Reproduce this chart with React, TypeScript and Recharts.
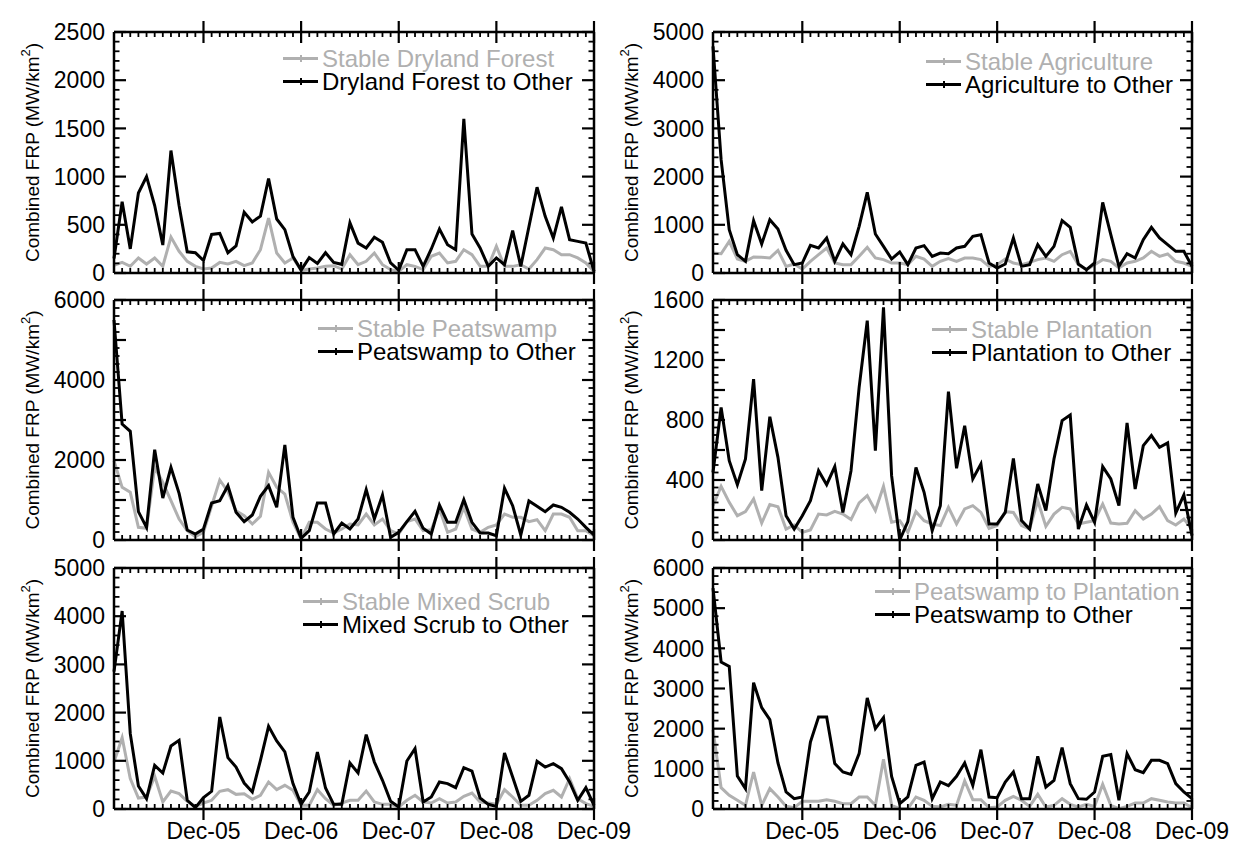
import React from 'react';
import { LineChart, Line, XAxis, YAxis, Legend } from 'recharts';

const FONT = '"Liberation Sans", Arial, Helvetica, sans-serif';
const GRAY = '#b0b0b0';
const AXIS = { stroke: '#000', strokeWidth: 2.5 };

const MONTH_NAMES = ['Jan', 'Feb', 'Mar', 'Apr', 'May', 'Jun', 'Jul', 'Aug', 'Sep', 'Oct', 'Nov', 'Dec'];
const YEARS = ['05', '06', '07', '08', '09'];
const months: string[] = YEARS.flatMap((y) => MONTH_NAMES.map((m) => `${m}-${y}`));

// Panel 1: Dryland Forest
const dryStable = [80, 110, 70, 156, 93, 156, 70, 373, 225, 121, 69, 41, 52, 110, 93, 121, 76, 104, 242, 570, 207, 104, 156, 28, 41, 52, 69, 76, 41, 190, 86, 121, 207, 86, 35, 17, 86, 69, 35, 173, 207, 104, 121, 242, 190, 69, 69, 277, 69, 69, 86, 41, 138, 259, 242, 190, 190, 156, 104, 17];
const dryOther = [150, 740, 250, 830, 1000, 700, 290, 1270, 700, 220, 210, 130, 400, 410, 210, 280, 630, 530, 590, 980, 560, 450, 170, 30, 160, 100, 210, 110, 90, 520, 310, 260, 370, 318, 104, 28, 242, 242, 69, 249, 456, 294, 242, 1600, 405, 260, 69, 156, 86, 439, 69, 480, 890, 588, 363, 685, 346, 328, 311, 17];

// Panel 2: Agriculture
const agriStable = [415, 400, 657, 290, 242, 332, 325, 311, 470, 138, 187, 83, 242, 380, 519, 207, 173, 173, 346, 533, 311, 277, 207, 207, 173, 346, 290, 138, 242, 300, 242, 311, 311, 277, 138, 173, 290, 207, 173, 221, 277, 311, 242, 380, 450, 173, 69, 173, 277, 242, 104, 207, 242, 311, 450, 346, 394, 242, 207, 138];
const agriOther = [4700, 2350, 900, 380, 242, 1086, 602, 1107, 913, 470, 173, 207, 574, 519, 726, 242, 602, 380, 968, 1674, 809, 553, 290, 436, 173, 519, 567, 346, 415, 400, 519, 553, 760, 795, 207, 104, 187, 726, 138, 173, 588, 346, 553, 1086, 947, 187, 69, 207, 1466, 795, 138, 400, 312, 692, 948, 726, 588, 450, 450, 138];

// Panel 3: Peatswamp
const peatStable = [1983, 1317, 1192, 317, 292, 1817, 1442, 983, 525, 233, 83, 192, 850, 1500, 1208, 733, 608, 400, 592, 1692, 1317, 1150, 442, 25, 442, 442, 275, 175, 275, 400, 375, 650, 375, 525, 233, 150, 458, 525, 233, 258, 775, 192, 275, 817, 275, 192, 317, 375, 650, 567, 567, 458, 508, 233, 650, 650, 567, 233, 233, 108];
const peatOther = [5500, 2900, 2717, 708, 317, 2258, 1050, 1817, 1167, 250, 150, 275, 925, 983, 1358, 692, 458, 625, 1092, 1358, 817, 2375, 567, 42, 233, 925, 925, 150, 425, 275, 525, 1258, 525, 1125, 67, 192, 458, 717, 292, 150, 875, 442, 442, 1008, 442, 175, 175, 108, 1292, 858, 125, 975, 842, 708, 875, 817, 692, 525, 317, 125];

// Panel 4: Plantation
const plantStable = [229, 358, 251, 162, 189, 273, 113, 236, 222, 73, 100, 51, 67, 173, 167, 191, 173, 136, 247, 296, 196, 358, 118, 129, 51, 189, 129, 107, 96, 218, 107, 207, 229, 184, 78, 96, 189, 184, 96, 73, 262, 91, 173, 218, 207, 107, 118, 129, 240, 113, 107, 111, 196, 140, 173, 222, 129, 100, 140, 73];
const plantOther = [450, 884, 529, 369, 540, 1073, 329, 822, 551, 162, 73, 162, 262, 462, 369, 489, 184, 462, 1018, 1462, 596, 1551, 429, 0, 122, 484, 318, 62, 229, 989, 478, 762, 407, 507, 107, 107, 184, 544, 129, 73, 373, 196, 540, 796, 833, 73, 233, 118, 489, 407, 229, 780, 340, 629, 696, 618, 647, 180, 300, 29];

// Panel 5: Mixed Scrub
const scrubStable = [975, 1480, 629, 228, 249, 678, 145, 373, 318, 159, 55, 124, 180, 367, 401, 304, 318, 201, 284, 560, 401, 491, 387, 76, 76, 401, 214, 76, 124, 180, 180, 373, 145, 97, 97, 41, 180, 284, 145, 124, 214, 124, 145, 263, 332, 145, 124, 97, 401, 249, 76, 76, 180, 318, 387, 249, 629, 214, 111, 55];
const scrubOther = [2850, 4108, 1563, 477, 214, 906, 747, 1307, 1425, 180, 28, 235, 367, 1909, 1065, 871, 539, 353, 1010, 1715, 1411, 1183, 526, 97, 353, 1183, 436, 97, 97, 954, 747, 1542, 975, 595, 159, 41, 996, 1252, 145, 249, 560, 526, 443, 858, 788, 228, 97, 55, 1162, 664, 159, 284, 989, 871, 941, 837, 560, 180, 443, 76];

// Panel 6: Peatswamp to Plantation / Other
const peatToPlant = [1975, 531, 340, 216, 91, 921, 91, 506, 299, 66, 33, 191, 191, 191, 232, 191, 133, 133, 299, 299, 91, 1237, 91, 8, 8, 299, 216, 66, 50, 116, 91, 697, 232, 232, 33, 50, 216, 315, 216, 66, 365, 50, 91, 257, 116, 50, 116, 66, 614, 91, 8, 66, 149, 149, 257, 216, 174, 149, 149, 33];
const peatToOther = [5500, 3660, 3552, 822, 506, 3145, 2523, 2224, 1145, 423, 257, 299, 1668, 2290, 2290, 1129, 921, 863, 1378, 2764, 2000, 2274, 813, 133, 299, 1087, 1170, 257, 672, 580, 813, 1145, 589, 1477, 299, 282, 672, 921, 257, 257, 1311, 548, 714, 1527, 631, 257, 241, 423, 1311, 1353, 216, 1378, 979, 905, 1212, 1212, 1129, 631, 423, 257];

// Y axis tick labels per panel
const labels1 = [0, 500, 1000, 1500, 2000, 2500];
const labels2 = [0, 1000, 2000, 3000, 4000, 5000];
const labels3 = [0, 2000, 4000, 6000];
const labels4 = [0, 400, 800, 1200, 1600];
const labels5 = [0, 1000, 2000, 3000, 4000, 5000];
const labels6 = [0, 1000, 2000, 3000, 4000, 5000, 6000];

type Cfg = {
  left: number; top: number; width: number; height: number;
  plot: { top: number; right: number; bottom: number; left: number };
  gray: number[]; black: number[];
  grayName: string; blackName: string;
  max: number; minor: number; major: number; labels: number[];
  showX: boolean;
  legendLeft: number; legendTop: number;
};

// plot-area insets inside each chart box
const COL = [
  { left: 0, width: 640, ml: 114, mr: 46 },
  { left: 600, width: 641, ml: 113, mr: 49 },
];
const ROW = [
  { top: 0, height: 286, mt: 32, mb: 13 },
  { top: 286, height: 268, mt: 14, mb: 14 },
  { top: 554, height: 291, mt: 14, mb: 36 },
];

function mk(c: number, r: number, rest: Omit<Cfg, 'left' | 'top' | 'width' | 'height' | 'plot' | 'showX'>): Cfg {
  const col = COL[c];
  const row = ROW[r];
  return {
    left: col.left, top: row.top, width: col.width, height: row.height,
    plot: { top: row.mt, right: col.mr, bottom: row.mb, left: col.ml },
    showX: r === 2,
    ...rest,
  };
}

const panels: Cfg[] = [
  mk(0, 0, { gray: dryStable, black: dryOther, grayName: 'Stable Dryland Forest', blackName: 'Dryland Forest to Other', max: 2500, minor: 100, major: 500, labels: labels1, legendLeft: 283, legendTop: 47 }),
  mk(1, 0, { gray: agriStable, black: agriOther, grayName: 'Stable Agriculture', blackName: 'Agriculture to Other', max: 5000, minor: 200, major: 1000, labels: labels2, legendLeft: 326, legendTop: 50 }),
  mk(0, 1, { gray: peatStable, black: peatOther, grayName: 'Stable Peatswamp', blackName: 'Peatswamp to Other', max: 6000, minor: 200, major: 1000, labels: labels3, legendLeft: 318, legendTop: 31 }),
  mk(1, 1, { gray: plantStable, black: plantOther, grayName: 'Stable Plantation', blackName: 'Plantation to Other', max: 1600, minor: 50, major: 200, labels: labels4, legendLeft: 332, legendTop: 32 }),
  mk(0, 2, { gray: scrubStable, black: scrubOther, grayName: 'Stable Mixed Scrub', blackName: 'Mixed Scrub to Other', max: 5000, minor: 200, major: 1000, labels: labels5, legendLeft: 303, legendTop: 36 }),
  mk(1, 2, { gray: peatToPlant, black: peatToOther, grayName: 'Peatswamp to Plantation', blackName: 'Peatswamp to Other', max: 6000, minor: 200, major: 1000, labels: labels6, legendLeft: 275, legendTop: 26 }),
];

function XTick(props: any) {
  const { x, y, payload, side, showLabel } = props;
  const v = String(payload.value);
  const major = v.startsWith('Dec');
  const inward = side === 'bottom' ? -1 : 1;
  return (
    <g>
      {major ? (
        <line x1={x} x2={x} y1={y - 11} y2={y + 11} stroke="#000" strokeWidth={2.2} />
      ) : (
        <line x1={x} x2={x} y1={y} y2={y + inward * 5} stroke="#000" strokeWidth={1.8} />
      )}
      {showLabel && major && side === 'bottom' ? (
        <text x={x} y={y + 30} textAnchor="middle" fontFamily={FONT} fontSize={23} fill="#000">
          {v}
        </text>
      ) : null}
    </g>
  );
}

function YTick(props: any) {
  const { x, y, payload, side, cfg } = props;
  const v = Number(payload.value);
  const isMajor = v % cfg.major === 0;
  const inward = side === 'left' ? 1 : -1;
  const len = isMajor ? 12 : 5.5;
  const showLabel = side === 'left' && cfg.labels.includes(v);
  return (
    <g>
      <line x1={x} x2={x + inward * len} y1={y} y2={y} stroke="#000" strokeWidth={isMajor ? 2.2 : 1.8} />
      {showLabel ? (
        <text x={x - 9} y={y} dy="0.36em" textAnchor="end" fontFamily={FONT} fontSize={23} fill="#000">
          {v}
        </text>
      ) : null}
    </g>
  );
}

function AxisTitle(props: any) {
  const { cx, cy } = props;
  return (
    <text
      x={cx}
      y={cy}
      transform={`rotate(-90 ${cx} ${cy})`}
      textAnchor="middle"
      dominantBaseline="central"
      fontFamily={FONT}
      fontSize={19}
      fill="#000"
    >
      Combined FRP (MW/km
      <tspan dy={-7} fontSize={13}>2</tspan>
      <tspan dy={7}>)</tspan>
    </text>
  );
}

function LegendBox({ cfg }: { cfg: Cfg }) {
  const row = (color: string, name: string) => (
    <div style={{ display: 'flex', alignItems: 'center', height: 23, whiteSpace: 'nowrap', overflow: 'visible' }}>
      <div style={{ position: 'relative', width: 35, height: 3, background: color, marginRight: 4 }}>
        <div style={{ position: 'absolute', left: 17, top: -2, width: 1.5, height: 7, background: color }} />
      </div>
      <span
        style={{
          display: 'inline-block',
          height: 23,
          fontFamily: FONT,
          fontSize: 24,
          color,
          lineHeight: '23px',
          overflow: 'visible',
        }}
      >
        {name}
      </span>
    </div>
  );
  return (
    <div>
      {row(GRAY, cfg.grayName)}
      {row('#000', cfg.blackName)}
    </div>
  );
}

function Panel({ cfg }: { cfg: Cfg }) {
  const data = months.map((m, i) => ({ m, a: cfg.gray[i], b: cfg.black[i] }));
  const yTicks: number[] = [];
  for (let v = 0; v <= cfg.max; v += cfg.minor) yTicks.push(v);
  const plotH = cfg.height - cfg.plot.top - cfg.plot.bottom;
  // axes take 1px each; subtract from margins so the plot area stays put
  const margin = {
    top: cfg.plot.top - 1,
    bottom: cfg.plot.bottom - 1,
    left: cfg.plot.left - 1,
    right: cfg.plot.right - 1,
  };
  return (
    <div style={{ position: 'absolute', left: cfg.left, top: cfg.top }}>
      <LineChart width={cfg.width} height={cfg.height} data={data} margin={margin}>
        <XAxis
          xAxisId="bottom"
          dataKey="m"
          orientation="bottom"
          height={1}
          ticks={months}
          interval={0}
          tickSize={0}
          tickMargin={0}
          tickLine={false}
          axisLine={AXIS}
          tick={(p: any) => <XTick {...p} side="bottom" showLabel={cfg.showX} />}
        />
        <XAxis
          xAxisId="top"
          dataKey="m"
          orientation="top"
          height={1}
          ticks={months}
          interval={0}
          tickSize={0}
          tickMargin={0}
          tickLine={false}
          axisLine={AXIS}
          tick={(p: any) => <XTick {...p} side="top" showLabel={false} />}
        />
        <YAxis
          yAxisId="left"
          orientation="left"
          type="number"
          width={1}
          domain={[0, cfg.max]}
          allowDataOverflow
          ticks={yTicks}
          interval={0}
          tickSize={0}
          tickMargin={0}
          tickLine={false}
          axisLine={AXIS}
          tick={(p: any) => <YTick {...p} side="left" cfg={cfg} />}
          label={<AxisTitle cx={cfg.plot.left - 82} cy={cfg.plot.top + plotH / 2} />}
        />
        <YAxis
          yAxisId="right"
          orientation="right"
          type="number"
          width={1}
          domain={[0, cfg.max]}
          allowDataOverflow
          ticks={yTicks}
          interval={0}
          tickSize={0}
          tickMargin={0}
          tickLine={false}
          axisLine={AXIS}
          tick={(p: any) => <YTick {...p} side="right" cfg={cfg} />}
        />
        <Line
          xAxisId="top"
          yAxisId="right"
          type="linear"
          dataKey="a"
          name={cfg.grayName}
          stroke={GRAY}
          strokeWidth={3}
          dot={false}
          isAnimationActive={false}
        />
        <Line
          xAxisId="bottom"
          yAxisId="left"
          type="linear"
          dataKey="b"
          name={cfg.blackName}
          stroke="#000"
          strokeWidth={3}
          dot={false}
          isAnimationActive={false}
        />
        <Legend
          layout="vertical"
          align="center"
          verticalAlign="middle"
          content={() => <LegendBox cfg={cfg} />}
          wrapperStyle={{ left: cfg.legendLeft, top: cfg.legendTop, width: 'auto', height: 'auto' }}
        />
      </LineChart>
    </div>
  );
}

export default function App() {
  return (
    <div style={{ position: 'absolute', left: 0, top: 0, width: 1241, height: 845, background: '#fff', overflow: 'hidden' }}>
      {panels.map((p, i) => (
        <Panel key={i} cfg={p} />
      ))}
    </div>
  );
}
